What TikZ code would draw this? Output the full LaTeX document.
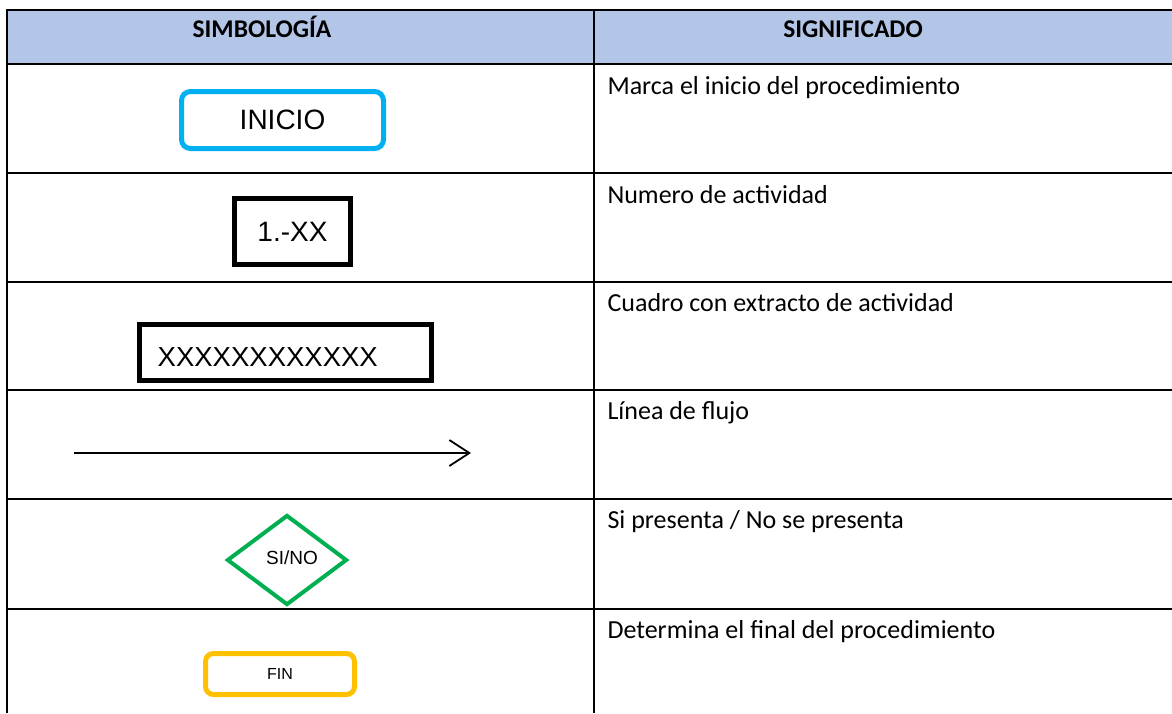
\documentclass[tikz,border=0pt]{standalone}
\usepackage{fontspec}
\setmainfont{Carlito}
\newfontfamily\arialf{Liberation Sans}
\usetikzlibrary{shapes.geometric,arrows.meta}
\definecolor{hdr}{HTML}{B4C6E7}
\definecolor{cyanb}{HTML}{00B0F0}
\definecolor{greenb}{HTML}{00B050}
\definecolor{orangeb}{HTML}{FFC000}
\tikzset{
  grid/.style={line width=2.6pt, black},
  hdrtext/.style={font=\bfseries\fontsize{25.5}{28}\selectfont, anchor=base},
  desc/.style={font=\fontsize{26}{30}\selectfont, anchor=base west},
  symbox/.style={draw, line width=5pt, inner sep=0pt, font=\arialf\fontsize{28}{30}\selectfont},
}
\begin{document}
\begin{tikzpicture}[x=1pt,y=-1pt]
\useasboundingbox (0,0) rectangle (1172,713);
% header fill
\fill[hdr] (7,10) rectangle (1172,64);
% grid lines
\draw[grid] (1172,10) -- (7,10) -- (7,713);
\draw[grid] (594,10) -- (594,713);
\foreach \y in {64,173,282,390,499,609} \draw[grid] (7,\y) -- (1172,\y);
% header texts
\node[hdrtext] (h1) at (262,37) {SIMBOLOG\'IA};
\node[hdrtext] (h2) at (853,37) {SIGNIFICADO};
% row 1
\node[symbox, draw=cyanb, rounded corners=9pt, minimum width=202pt, minimum height=57pt] (inicio) at (282.5,120) {INICIO};
\node[desc] (d1) at (604,94) {Marca el inicio del procedimiento};
% row 2
\node[symbox, minimum width=116pt, minimum height=66pt] (num) at (292.5,231.5) {1.-XX};
\node[desc] (d2) at (604,203) {Numero de actividad};
% row 3
\node[symbox, minimum width=292pt, minimum height=56pt] (ext) at (285.5,352.5) {};
\node[font=\arialf\fontsize{27.5}{30}\selectfont, anchor=base west, inner sep=0pt] (extt) at (157.5,366) {XXXXXXXXXXXX};
\node[desc] (d3) at (604,311) {Cuadro con extracto de actividad};
% row 4
\coordinate (a1) at (74,453);
\coordinate (a2) at (471,453);
\draw[line width=1.8pt, -{Straight Barb[length=20pt, width=26pt, line width=1.8pt]}] (a1) -- (a2);
\node[desc] (d4) at (604,419) {L\'inea de flujo};
% row 5
\node[diamond, draw=greenb, line width=4pt, minimum width=120pt, minimum height=90pt, inner sep=0pt, aspect=1.33] (dec) at (287,560) {};
\node[font=\arialf\fontsize{19}{20}\selectfont, inner sep=0pt] (dect) at (292,558) {SI/NO};
\node[desc] (d5) at (604,528) {Si presenta / No se presenta};
% row 6
\node[symbox, draw=orangeb, line width=5pt, rounded corners=8pt, minimum width=149pt, minimum height=41pt, font=\arialf\fontsize{16}{17}\selectfont] (fin) at (280,674) {FIN};
\node[desc] (d6) at (604,638) {Determina el final del procedimiento};
\end{tikzpicture}
\end{document}
